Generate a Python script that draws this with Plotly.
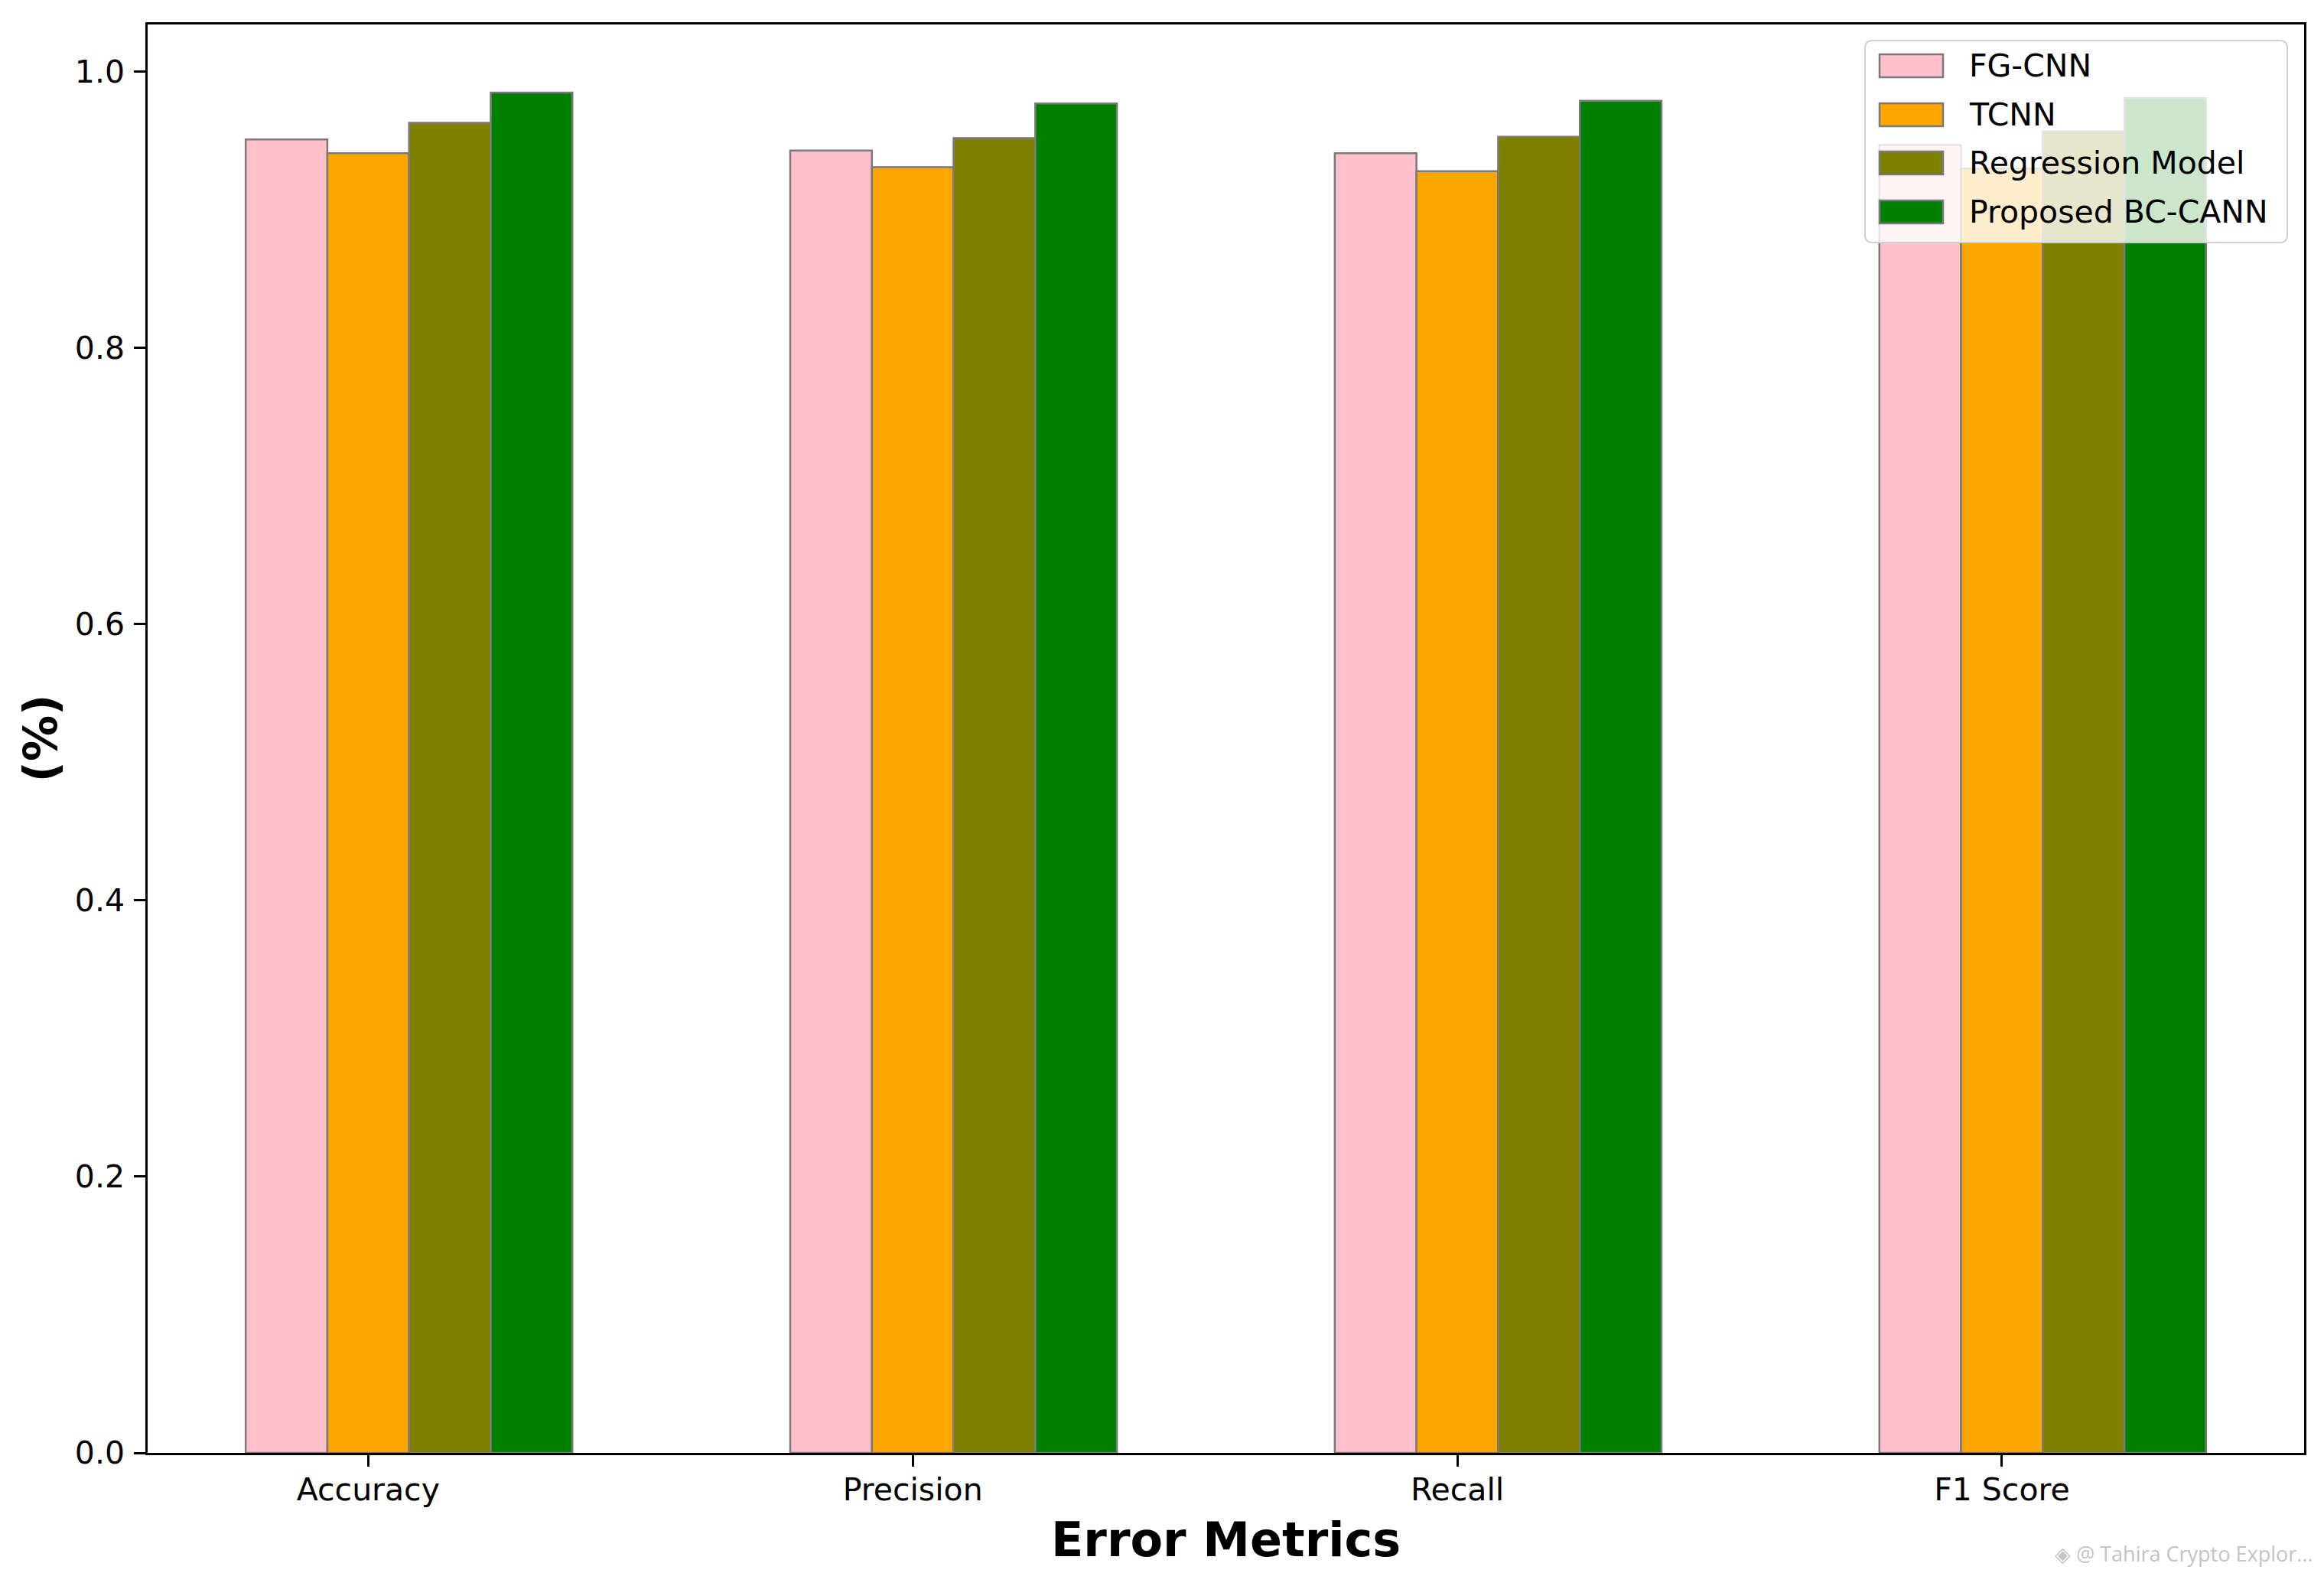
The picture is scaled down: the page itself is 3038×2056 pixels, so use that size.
import plotly.graph_objects as go
import numpy as np

# ---- data ----
categories = ["Accuracy", "Precision", "Recall", "F1 Score"]
fg_cnn = [0.951, 0.943, 0.941, 0.947]
tcnn = [0.941, 0.931, 0.928, 0.930]
regression_model = [0.963, 0.952, 0.953, 0.957]
proposed_bc_cann = [0.985, 0.977, 0.979, 0.981]
series_names = ["FG-CNN", "TCNN", "Regression Model", "Proposed BC-CANN"]
y_ticks = [0.0, 0.2, 0.4, 0.6, 0.8, 1.0]

series_values = [fg_cnn, tcnn, regression_model, proposed_bc_cann]
colors = ["#FFC0CB", "#FFA500", "#808000", "#008000"]
bar_w = 0.15
positions = np.arange(len(categories))

OFF = 8  # page body offset
W, H = 3038 - OFF, 2056 - OFF  # figure reaches the viewport's right/bottom edge
L, R, T, B = 193, 3012, 32, 1899  # plot area in page pixels
FONT = "DejaVu Sans"


def px(x):
    return (x - L) / (R - L)


def py(y):
    return (B - y) / (B - T)


fig = go.Figure()
for k, (name, vals, col) in enumerate(zip(series_names, series_values, colors)):
    fig.add_trace(go.Bar(
        x=positions + k * bar_w,
        y=vals,
        width=bar_w,
        name=name,
        marker=dict(color=col, line=dict(color="#7a7a7a", width=2.5)),
        showlegend=False,
    ))

xmin = -bar_w / 2 - 0.18
xmax = 3 + 3 * bar_w + bar_w / 2 + 0.18
ymax = max(max(v) for v in series_values) * 1.05

axis_common = dict(
    showline=True, mirror=True, linecolor="black", linewidth=2.5,
    ticks="outside", ticklen=15, tickwidth=2.5, tickcolor="black",
    showgrid=False, zeroline=False,
    tickfont=dict(family=FONT, size=41, color="black"),
)

fig.update_layout(
    width=W, height=H,
    margin=dict(l=L - OFF, r=OFF + W - R, t=T - OFF, b=OFF + H - B),
    paper_bgcolor="white", plot_bgcolor="white",
    barmode="overlay",
    xaxis=dict(range=[xmin, xmax], tickvals=positions + bar_w, ticktext=categories,
               ticklabelstandoff=-5, **axis_common),
    yaxis=dict(range=[0, ymax], tickvals=y_ticks, tickformat=".1f",
               ticklabelstandoff=4, **axis_common),
)

# axis titles
fig.add_annotation(text="<b>Error Metrics</b>", xref="paper", yref="paper",
                   x=0.5, y=py(2012), xanchor="center", yanchor="middle",
                   showarrow=False, font=dict(family=FONT, size=62, color="black"))
fig.add_annotation(text="<b>(%)</b>", xref="paper", yref="paper",
                   x=px(52), y=0.5, xanchor="center", yanchor="middle", textangle=-90,
                   showarrow=False, font=dict(family=FONT, size=60, color="black"))

# legend (matplotlib style, semi-transparent frame)
lx0, lx1, ly0, ly1, rad = 2438, 2990, 53, 317, 10


def rounded_path(x0, y0, x1, y1, r):
    pts = [
        f"M {px(x0 + r)},{py(y0)}",
        f"L {px(x1 - r)},{py(y0)}",
        f"Q {px(x1)},{py(y0)} {px(x1)},{py(y0 + r)}",
        f"L {px(x1)},{py(y1 - r)}",
        f"Q {px(x1)},{py(y1)} {px(x1 - r)},{py(y1)}",
        f"L {px(x0 + r)},{py(y1)}",
        f"Q {px(x0)},{py(y1)} {px(x0)},{py(y1 - r)}",
        f"L {px(x0)},{py(y0 + r)}",
        f"Q {px(x0)},{py(y0)} {px(x0 + r)},{py(y0)}",
        "Z",
    ]
    return " ".join(pts)


fig.add_shape(type="path", xref="paper", yref="paper",
              path=rounded_path(lx0, ly0, lx1, ly1, rad),
              fillcolor="rgba(255,255,255,0.8)", line=dict(color="#d0d0d0", width=2),
              layer="above")

row_centers = [86, 150, 213, 277]
for name, col, cy in zip(series_names, colors, row_centers):
    fig.add_shape(type="rect", xref="paper", yref="paper",
                  x0=px(2457), x1=px(2540), y0=py(cy + 15), y1=py(cy - 15),
                  fillcolor=col, line=dict(color="#7a7a7a", width=2.5), layer="above")
    fig.add_annotation(text=name, xref="paper", yref="paper",
                       x=px(2572), y=py(cy), xanchor="left", yanchor="middle",
                       showarrow=False, font=dict(family=FONT, size=41, color="black"))

# watermark
fig.add_annotation(text="◈ @ Tahira Crypto Explor...", xref="paper", yref="paper",
                   x=px(3026), y=py(2030), xanchor="right", yanchor="middle",
                   showarrow=False, font=dict(family="Open Sans", size=27, color="#c4c4c4"))

fig.write_html("out.html")
